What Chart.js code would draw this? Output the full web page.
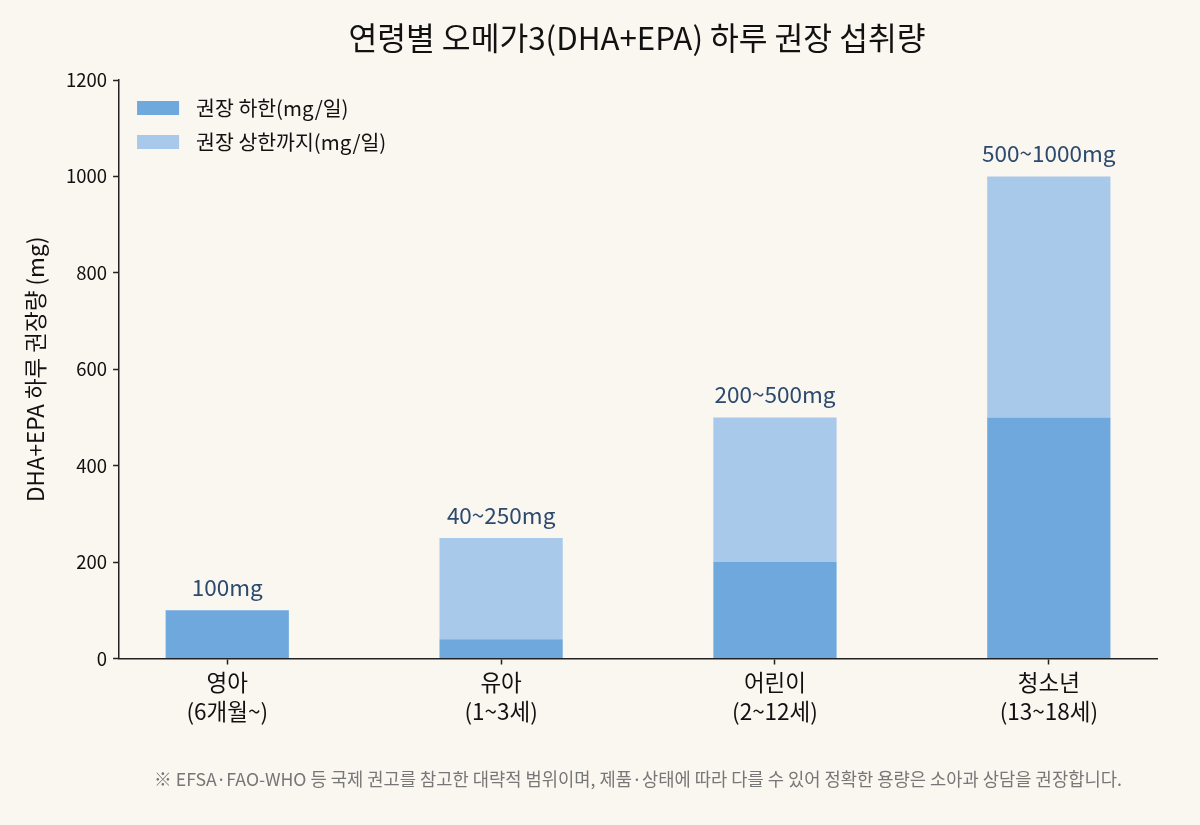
<!DOCTYPE html>
<html>
<head>
<meta charset="utf-8">
<script src="https://cdn.jsdelivr.net/npm/chart.js@4"></script>
<style>
  html, body { margin: 0; padding: 0; background: #faf6f0; }
  #wrap { width: 1200px; height: 825px; position: relative; }
</style>
</head>
<body>
<div id="wrap"><canvas id="omegaChart"></canvas></div>
<script>
const FONT = '"Noto Sans CJK KR", "Noto Sans", sans-serif';

const groups = [['영아', '(6개월~)'], ['유아', '(1~3세)'], ['어린이', '(2~12세)'], ['청소년', '(13~18세)']];
const lowerValues = [100, 40, 200, 500];
const upperExtra = [0, 210, 300, 500];
const rangeLabels = ['100mg', '40~250mg', '200~500mg', '500~1000mg'];
const yTicks = [0, 200, 400, 600, 800, 1000, 1200];

const titleText = '연령별 오메가3(DHA+EPA) 하루 권장 섭취량';
const yTitle = 'DHA+EPA 하루 권장량 (mg)';
const footnote = '※ EFSA·FAO-WHO 등 국제 권고를 참고한 대략적 범위이며, 제품·상태에 따라 다를 수 있어 정확한 용량은 소아과 상담을 권장합니다.';

const overlay = {
  id: 'overlay',
  afterDraw(chart) {
    const ctx = chart.ctx;
    const xs = chart.scales.x;
    const ys = chart.scales.y;
    const area = chart.chartArea;
    ctx.save();

    // title
    ctx.fillStyle = '#111';
    ctx.font = '31.3px ' + FONT;
    ctx.textAlign = 'center';
    ctx.textBaseline = 'middle';
    ctx.fillText(titleText, 637, 38);

    // range labels above bars
    ctx.fillStyle = '#2c4a6e';
    ctx.font = '22.5px ' + FONT;
    ctx.textBaseline = 'alphabetic';
    rangeLabels.forEach((txt, i) => {
      const top = lowerValues[i] + upperExtra[i];
      ctx.fillText(txt, xs.getPixelForValue(i), ys.getPixelForValue(top) - 14);
    });

    // legend
    ctx.font = '20.5px ' + FONT;
    ctx.textAlign = 'left';
    ctx.textBaseline = 'middle';
    chart.data.datasets.forEach((ds, i) => {
      const y = area.top + 28 + i * 34;
      ctx.fillStyle = ds.backgroundColor;
      ctx.fillRect(area.left + 18, y - 7, 42, 14);
      ctx.fillStyle = '#111';
      ctx.fillText(ds.label, area.left + 77, y);
    });

    // footnote
    ctx.fillStyle = '#777';
    ctx.font = '17.7px ' + FONT;
    ctx.textAlign = 'center';
    ctx.fillText(footnote, 638, 779);

    // y axis title
    ctx.translate(35, (area.top + area.bottom) / 2);
    ctx.rotate(-Math.PI / 2);
    ctx.fillStyle = '#111';
    ctx.font = '22.5px ' + FONT;
    ctx.fillText(yTitle, 0, 0);
    ctx.restore();
  }
};

new Chart(document.getElementById('omegaChart'), {
  type: 'bar',
  data: {
    datasets: [
      {
        label: '권장 하한(mg/일)',
        data: lowerValues.map((v, i) => ({ x: i, y: v })),
        backgroundColor: '#6fa8dc',
      },
      {
        label: '권장 상한까지(mg/일)',
        data: upperExtra.map((v, i) => ({ x: i, y: v })),
        backgroundColor: '#a9c9eb',
      },
    ],
  },
  options: {
    responsive: true,
    maintainAspectRatio: false,
    animation: false,
    layout: { padding: { left: 60, right: 43, top: 80, bottom: 96 } },
    datasets: { bar: { categoryPercentage: 1, barPercentage: 0.45 } },
    plugins: {
      legend: { display: false },
      tooltip: { enabled: false },
      title: { display: false },
    },
    scales: {
      x: {
        type: 'linear',
        stacked: true,
        offset: false,
        min: -0.395,
        max: 3.395,
        afterBuildTicks: (axis) => { axis.ticks = groups.map((_, i) => ({ value: i })); },
        ticks: {
          color: '#111',
          font: { family: FONT, size: 22.5, lineHeight: 1.3 },
          padding: 3,
          maxRotation: 0,
          autoSkip: false,
          includeBounds: false,
          callback: (v) => groups[v],
        },
        grid: { drawOnChartArea: false, offset: false, tickLength: 6, color: '#222', tickWidth: 1.5 },
        border: { color: '#222', width: 1.5 },
      },
      y: {
        stacked: true,
        min: 0,
        max: 1200,
        afterBuildTicks: (axis) => { axis.ticks = yTicks.map((v) => ({ value: v })); },
        ticks: {
          color: '#111',
          font: { family: FONT, size: 18.5 },
          padding: 6,
          callback: (v) => String(v),
        },
        grid: { drawOnChartArea: false, tickLength: 6, color: '#222', tickWidth: 1.5 },
        border: { color: '#222', width: 1.5 },
      },
    },
  },
  plugins: [overlay, {
    id: 'bg',
    beforeDraw(chart) {
      const ctx = chart.ctx;
      ctx.save();
      ctx.fillStyle = '#faf6f0';
      ctx.fillRect(0, 0, chart.width, chart.height);
      ctx.restore();
    },
  }],
});
</script>
</body>
</html>
